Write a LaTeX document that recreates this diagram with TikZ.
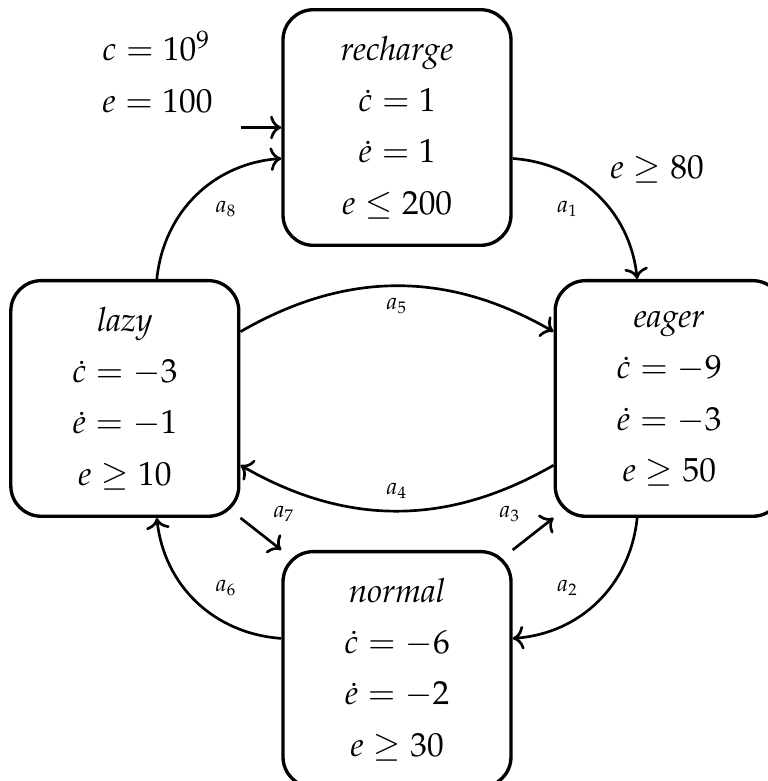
\documentclass[tikz,border=0pt]{standalone}
\usepackage[T1]{fontenc}
\usepackage{mathpazo}
\usepackage{amsmath}
\usetikzlibrary{arrows.meta,positioning}
\newcommand{\locinfo}[4]{\textit{#1}\\[3.4pt] $\dot{c}=#2$\\[3.4pt] $\dot{e}=#3$\\[3.4pt] $#4$}

\begin{document}
\begin{tikzpicture}[
  node distance=0.337cm and 0.43cm,
  auto,
  loc/.style={draw,line width=1pt,rounded corners=0.32cm,minimum width=2.4cm,
    minimum height=2.48cm,align=center,inner sep=0pt},
  trans/.style={-To,thick},
  lbl/.style={font=\scriptsize}
]
  \useasboundingbox (-4.179,-6.879) rectangle (3.905,1.342);

  \node[loc] (recharge) {\locinfo{recharge}{1}{1}{e\leq 200}};
  \node[loc,below left=of recharge] (lazy) {\locinfo{lazy}{-3}{-1}{e\geq 10}};
  \node[loc,below right=of recharge] (eager) {\locinfo{eager}{-9}{-3}{e\geq 50}};
  \node[loc,below right=of lazy] (normal) {\locinfo{normal}{-6}{-2}{e\geq 30}};

  % initial location
  \coordinate[left=0.42cm of recharge.west] (start);
  \node[align=left,above left=0.03cm and 0.18cm of start] (init) {$c=10^9$\\[3.4pt] $e=100$};
  \draw[trans] (start) -- (recharge.west);

  \draw[trans,bend left=40] (recharge.-15) to node[lbl,swap,pos=0.45]{$a_1$} node{$e\geq 80$} (eager.105);
  \draw[trans,bend left=40] (eager.-105) to node[lbl,swap,pos=0.55]{$a_2$} (normal.15);
  \draw[trans] (normal.north east) -- node[lbl]{$a_3$} (eager.south west);
  \draw[trans,bend left=30] (eager.-150) to node[lbl,swap]{$a_4$} (lazy.-30);
  \draw[trans,bend left=30] (lazy.30) to node[lbl,swap]{$a_5$} (eager.150);
  \draw[trans,bend left=40] (normal.165) to node[lbl,swap,pos=0.45]{$a_6$} (lazy.-75);
  \draw[trans] (lazy.south east) -- node[lbl]{$a_7$} (normal.north west);
  \draw[trans,bend left=40] (lazy.75) to node[lbl,swap,pos=0.55]{$a_8$} (recharge.-165);
\end{tikzpicture}
\end{document}
